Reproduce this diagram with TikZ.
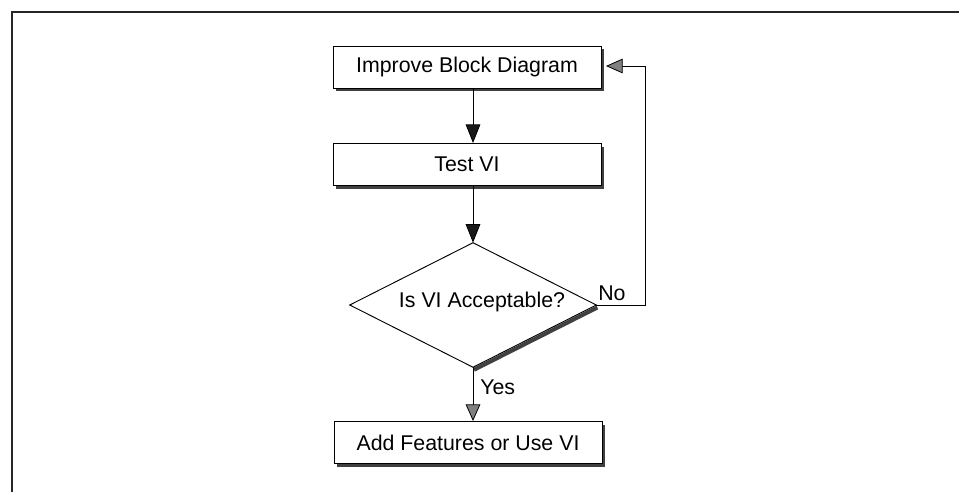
\documentclass[tikz,border=0pt]{standalone}
\usepackage{fontspec}
\setmainfont{Liberation Sans}
\usetikzlibrary{shapes.geometric,arrows.meta,shadows,calc}
\begin{document}
\begin{tikzpicture}[x=0.75pt,y=-0.75pt,
  stepbox/.style={draw=black,line width=0.7pt,fill=white,rectangle,minimum width=201pt,minimum height=31.5pt,inner sep=0pt,
    drop shadow={shadow xshift=2.4pt,shadow yshift=-2.4pt,fill=black!75,opacity=1}},
  lbl/.style={font=\fontsize{16}{19}\selectfont,inner sep=0pt},
  arr/.style={draw=black,line width=0.6pt,-{Triangle[length=14pt,width=11pt,fill=black!90]}},
  arrg/.style={draw=black,line width=0.6pt,-{Triangle[length=12.5pt,width=11pt,fill=black!50]}},
  conn/.style={draw=black,line width=0.6pt}]
\useasboundingbox (0,0) rectangle (959,492);
\fill[white] (0,0) rectangle (959,492);
% frame
\draw[line width=1.5pt,black!85] (12,492) -- (12,12) -- (959,12);
% boxes
\node[stepbox] (b1) at (467,67) {};
\node[lbl] (t1) at (b1.center) {Improve Block Diagram};
\node[stepbox] (b2) at (467,164.5) {};
\node[lbl] (t2) at (b2.center) {Test VI};
\node[stepbox] (b3) at (468,442.5) {};
\node[lbl] (t3) at (b3.center) {Add Features or Use VI};
% diamond
\node[shape=diamond,minimum width=184.5pt,minimum height=93pt,inner sep=0pt] (dia) at (473,305) {};
\draw[line width=3pt,black!75] ($(dia.east)+(1,2.5)$) -- ($(dia.south)+(1,2.5)$);
\draw[line width=0.7pt,fill=white] (dia.north) -- (dia.east) -- (dia.south) -- (dia.west) -- cycle;
\node[lbl] (t4) at (482,302) {Is VI Acceptable?};
% connectors
\draw[arr] (dia.north |- b1.south) -- (dia.north |- b2.north);
\draw[arr] (dia.north |- b2.south) -- (dia.north);
\draw[arrg] (dia.south) -- (dia.south |- b3.north);
\coordinate (lp) at (645,66);
\coordinate (tip) at (606,66);
\draw[arrg] (dia.east) -- (dia.east -| lp) -- (lp) -- (tip);
\node[lbl,anchor=west] (no) at (598,293) {No};
\node[lbl,anchor=west] (yes) at (480,387) {Yes};
\end{tikzpicture}
\end{document}
